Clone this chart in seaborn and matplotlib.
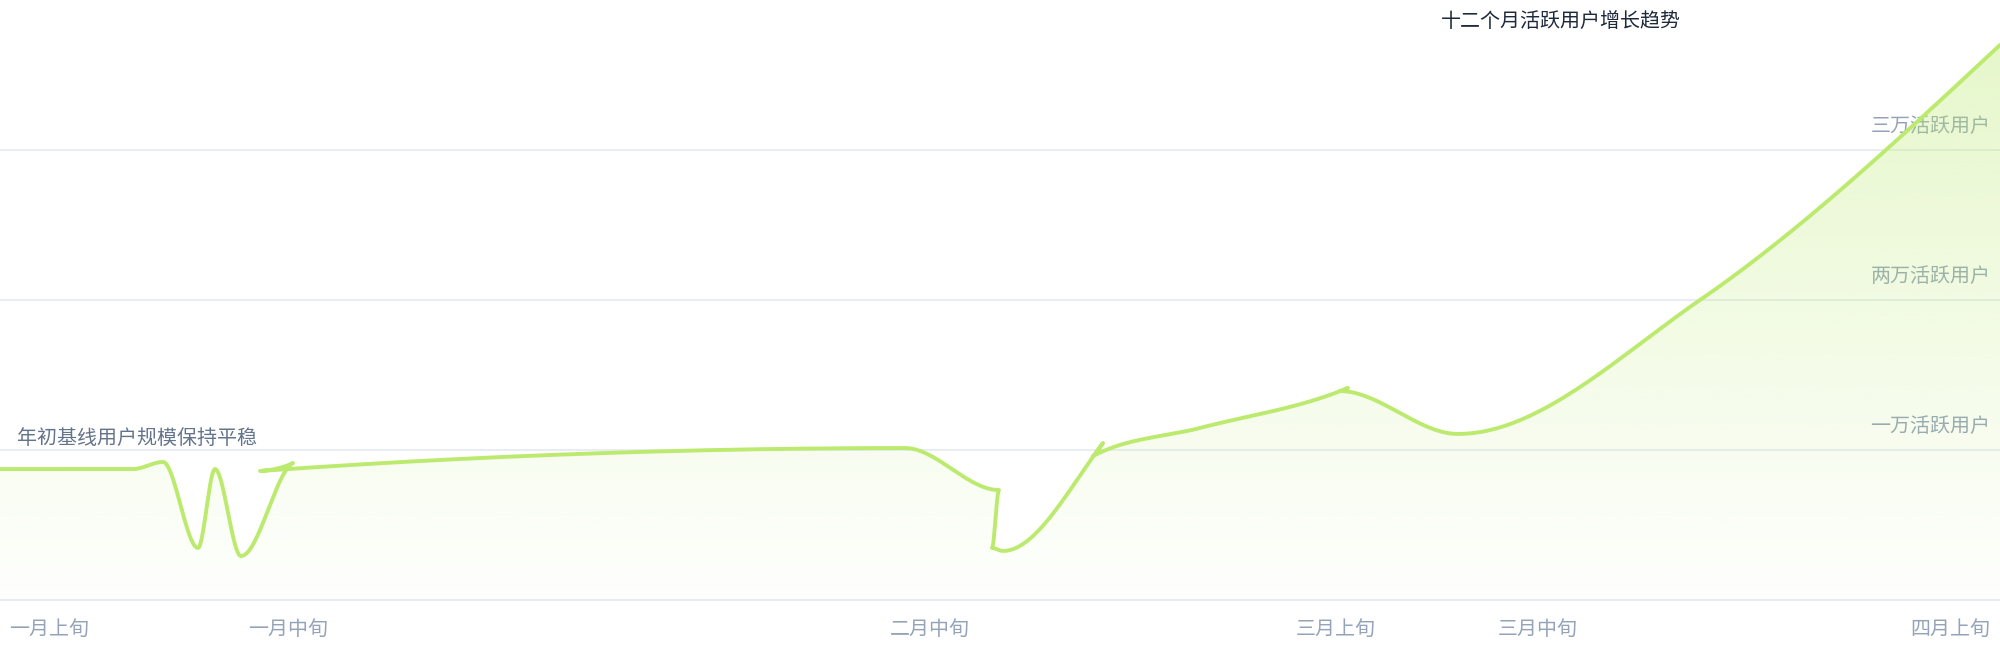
import numpy as np
import pandas as pd
import matplotlib
matplotlib.use("Agg")
import matplotlib.pyplot as plt
import seaborn as sns
from matplotlib.patches import Polygon
from matplotlib.colors import to_rgb

# data (day offset from start, active users)
day = [0, 6.65, 8.15, 9.9, 10.75, 12.05, 14.65, 13.0, 45.25, 49.95,
       49.6, 50.15, 55.15, 54.65, 60.0, 66.9, 67.4, 67.0, 72.9, 85.0, 100.0]
users = [8730, 8730, 9200, 3470, 8730, 2930, 9130, 8600, 10130, 7330,
         3470, 3270, 10470, 9600, 11470, 13870, 14130, 13930, 11070, 20000, 37000]

tick_days = [0, 14.4, 46.5, 66.8, 76.9, 100]
tick_labels = ["一月上旬", "一月中旬", "二月中旬", "三月上旬", "三月中旬", "四月上旬"]

grid_values = [10000, 20000, 30000]
grid_labels = ["一万活跃用户", "两万活跃用户", "三万活跃用户"]

title = "十二个月活跃用户增长趋势"
note = "年初基线用户规模保持平稳"

LINE = "#bbea6e"


def slope3(x0, y0, x1, y1, x2, y2):
    h0, h1 = x1 - x0, x2 - x1
    s0, s1 = (y1 - y0) / h0, (y2 - y1) / h1
    p = (s0 * h1 + s1 * h0) / (h0 + h1)
    r = (np.sign(s0) + np.sign(s1)) * min(abs(s0), abs(s1), 0.5 * abs(p))
    return 0.0 if np.isnan(r) else r


def monotone_x(xs, ys, n=40):
    # same construction as a monotoneX curve, points kept in given order
    k = len(xs)
    t = [0.0] * k
    for i in range(1, k - 1):
        t[i] = slope3(xs[i-1], ys[i-1], xs[i], ys[i], xs[i+1], ys[i+1])
    t[0] = (3 * (ys[1] - ys[0]) / (xs[1] - xs[0]) - t[1]) / 2
    t[-1] = (3 * (ys[-1] - ys[-2]) / (xs[-1] - xs[-2]) - t[-2]) / 2
    out_x, out_y = [xs[0]], [ys[0]]
    u = np.linspace(0, 1, n)[1:]
    for i in range(k - 1):
        dx = (xs[i+1] - xs[i]) / 3
        px = [xs[i], xs[i] + dx, xs[i+1] - dx, xs[i+1]]
        py = [ys[i], ys[i] + dx * t[i], ys[i+1] - dx * t[i+1], ys[i+1]]
        b = [(1-u)**3, 3*(1-u)**2*u, 3*(1-u)*u**2, u**3]
        out_x.extend(sum(b[j] * px[j] for j in range(4)))
        out_y.extend(sum(b[j] * py[j] for j in range(4)))
    return np.array(out_x), np.array(out_y)


cx, cy = monotone_x(day, users)
curve = pd.DataFrame({"day": cx, "users": cy})

sns.set_theme(style="white")
plt.rcParams["font.family"] = ["Noto Sans CJK SC", "DejaVu Sans"]

fig = plt.figure(figsize=(20, 6.6), dpi=100)
ax = fig.add_axes([0, 0, 1, 1])

for v in [0] + grid_values:
    ax.axhline(v, color="#e2e8f0", lw=1.1, zorder=0)

for v, lab in zip(grid_values, grid_labels):
    ax.annotate(lab, xy=(1, v), xycoords=("axes fraction", "data"),
                xytext=(-7, 17), textcoords="offset points",
                ha="right", va="center", fontsize=14.4, color="#94a3b8", zorder=1)

# gradient area under the curve
rgb = to_rgb(LINE)
g = np.linspace(0, 1, 256).reshape(-1, 1)
img = np.zeros((256, 1, 4))
img[..., :3] = rgb
img[..., 3] = 0.01 + 0.35 * g[:, 0:1]
im = ax.imshow(img, extent=[0, 100, 0, max(users)], origin="lower",
               aspect="auto", zorder=2, interpolation="bilinear")
area = Polygon(np.column_stack([np.r_[cx, cx[-1], cx[0]], np.r_[cy, 0, 0]]),
               closed=True, facecolor="none", edgecolor="none")
ax.add_patch(area)
im.set_clip_path(area)

sns.lineplot(data=curve, x="day", y="users", sort=False, estimator=None,
             color=LINE, lw=2.8, solid_capstyle="round",
             solid_joinstyle="round", ax=ax, zorder=3)

for i, (d, lab) in enumerate(zip(tick_days, tick_labels)):
    ha, off = "center", 0
    if i == 0:
        ha, off = "left", 6.5
    elif i == len(tick_days) - 1:
        ha, off = "right", -7
    ax.annotate(lab, xy=(d, 0), xytext=(off, -21.5), textcoords="offset points",
                ha=ha, va="center", fontsize=14.4, color="#94a3b8")

ax.text(0.0085, 0.335, note, transform=ax.transAxes, ha="left", va="center",
        fontsize=14.4, color="#64748b")
ax.text(0.7205, 0.968, title, transform=ax.transAxes, ha="left", va="center",
        fontsize=14.4, color="#1e293b")

ax.set_xlim(0, 100)
ax.set_ylim(-4000, 40000)
ax.set_axis_off()

fig.savefig("out.png", dpi=100)
